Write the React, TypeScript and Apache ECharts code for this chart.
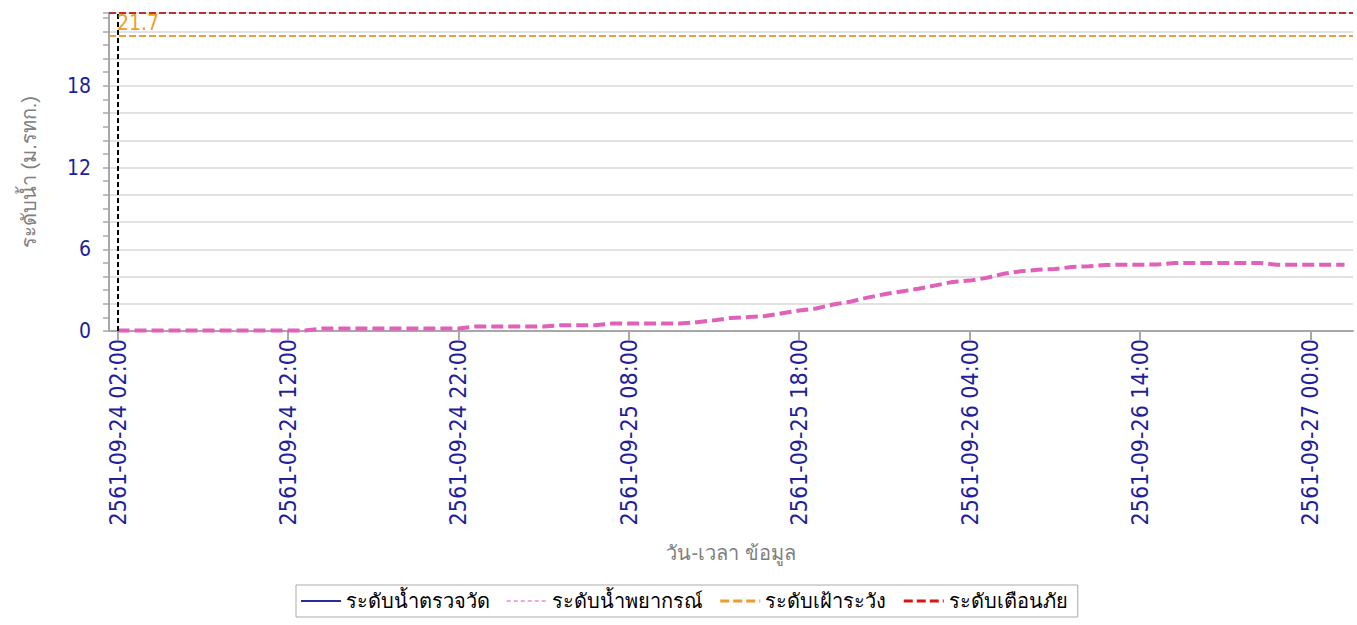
import React, { useEffect, useRef } from "react";
import * as echarts from "echarts";

// ---- data ----
const days = ["2561-09-24", "2561-09-25", "2561-09-26", "2561-09-27"];
const hours = [
  "00:00", "01:00", "02:00", "03:00", "04:00", "05:00", "06:00", "07:00",
  "08:00", "09:00", "10:00", "11:00", "12:00", "13:00", "14:00", "15:00",
  "16:00", "17:00", "18:00", "19:00", "20:00", "21:00", "22:00", "23:00",
];
// hourly categories from 2561-09-24 02:00 to 2561-09-27 02:00
const categories: string[] = [];
days.forEach((d, di) => {
  hours.forEach((h, hi) => {
    if (di === 0 && hi < 2) return;
    if (di === days.length - 1 && hi > 2) return;
    categories.push(d + " " + h);
  });
});

const observedLevel: (number | null)[] = [];

const forecastLevel = [
  0.03, 0.03, 0.03, 0.03, 0.03, 0.03, 0.03, 0.03, 0.03, 0.03, 0.03, 0.03,
  0.18, 0.18, 0.18, 0.18, 0.18, 0.18, 0.18, 0.18, 0.18,
  0.33, 0.33, 0.33, 0.33, 0.33,
  0.42, 0.42, 0.42,
  0.55, 0.55, 0.55, 0.55, 0.55,
  0.65, 0.78,
  0.95, 1.02, 1.1,
  1.3, 1.5, 1.65,
  1.95, 2.15,
  2.45, 2.7,
  2.9, 3.1,
  3.35, 3.6,
  3.7, 3.9,
  4.2, 4.38,
  4.5, 4.55,
  4.7, 4.75,
  4.85, 4.87, 4.87, 4.88,
  5.0, 5.0, 5.0, 5.0, 5.0, 5.0,
  4.87, 4.87, 4.87, 4.87, 4.87,
];

const watchLevel = 21.7;
const warningLevel = 23.35;
const nowIndex = 0;

const seriesNames = [
  "ระดับน้ำตรวจวัด",
  "ระดับน้ำพยากรณ์",
  "ระดับเฝ้าระวัง",
  "ระดับเตือนภัย",
];
const yLabelValues = [0, 6, 12, 18];

const FONT = "Tahoma, 'Liberation Sans', 'Noto Sans', sans-serif";
const NUM_FONT = "'DejaVu Sans Condensed', Tahoma, 'Liberation Sans', sans-serif";

export default function App() {
  const ref = useRef<HTMLDivElement>(null);

  useEffect(() => {
    if (!ref.current) return;
    const chart = echarts.init(ref.current, null, { renderer: "svg" });
    const empty = categories.map(() => null);
    const hidden = { opacity: 0 };

    chart.setOption({
      animation: false,
      backgroundColor: "#ffffff",
      textStyle: { fontFamily: FONT },
      grid: { left: 109, right: 4, top: 13, bottom: 294, containLabel: false },
      legend: {
        left: 296,
        top: 585,
        padding: [6, 10, 6, 4],
        itemGap: 16,
        itemWidth: 40,
        itemHeight: 14,
        borderColor: "#aaaaaa",
        borderWidth: 1,
        textStyle: { fontSize: 20, color: "#000", fontFamily: FONT },
        data: [
          { name: seriesNames[0], itemStyle: hidden, lineStyle: { color: "#2b2b99", width: 2, type: "solid" } },
          { name: seriesNames[1], itemStyle: hidden, lineStyle: { color: "#e88ad4", width: 1.5, type: [4, 3] } },
          { name: seriesNames[2], itemStyle: hidden, lineStyle: { color: "#f09a28", width: 3, type: [9, 4] } },
          { name: seriesNames[3], itemStyle: hidden, lineStyle: { color: "#d81414", width: 3, type: [9, 4] } },
        ],
      },
      xAxis: {
        type: "category",
        data: categories,
        boundaryGap: true,
        name: "วัน-เวลา ข้อมูล",
        nameLocation: "middle",
        nameGap: 212,
        nameTextStyle: { color: "#808080", fontSize: 20, fontFamily: FONT },
        axisLine: { lineStyle: { color: "#a8a8a8", width: 2 } },
        axisTick: { show: true, interval: 9, alignWithLabel: true, length: 9, lineStyle: { color: "#a8a8a8", width: 2 } },
        axisLabel: {
          interval: 9,
          rotate: 90,
          margin: 8,
          color: "#1f1f9c",
          fontSize: 23,
          fontFamily: NUM_FONT,
        },
        splitLine: { show: false },
      },
      yAxis: {
        type: "value",
        min: 0,
        max: warningLevel,
        interval: 2,
        name: "ระดับน้ำ (ม.รทก.)",
        nameLocation: "middle",
        nameGap: 70,
        nameTextStyle: { color: "#808080", fontSize: 20, fontFamily: FONT },
        axisLine: { show: true, lineStyle: { color: "#a8a8a8", width: 2 } },
        axisTick: { show: true, length: 6, lineStyle: { color: "#a8a8a8", width: 1.5 } },
        minorTick: { show: true, splitNumber: 2, length: 6, lineStyle: { color: "#a8a8a8", width: 1.5 } },
        axisLabel: {
          margin: 18,
          color: "#1f1f9c",
          fontSize: 21,
          fontFamily: NUM_FONT,
          formatter: (v: number) => (yLabelValues.indexOf(v) >= 0 ? String(v) : ""),
        },
        splitLine: { show: true, lineStyle: { color: "#d8d8d8", width: 1.5 } },
      },
      series: [
        {
          name: seriesNames[0],
          type: "line",
          data: observedLevel.length ? observedLevel : empty,
          symbol: "none",
          color: "#2b2b99",
          lineStyle: { color: "#2b2b99", width: 2 },
          markLine: {
            silent: true,
            symbol: ["none", "none"],
            label: { show: false },
            lineStyle: { color: "#000", width: 2, type: [5, 3] },
            data: [{ xAxis: nowIndex }],
          },
          z: 5,
        },
        {
          name: seriesNames[1],
          type: "line",
          data: forecastLevel,
          symbol: "none",
          color: "#e060bb",
          lineStyle: { color: "#e060bb", width: 4, type: [12, 5] },
          z: 4,
        },
        {
          name: seriesNames[2],
          type: "line",
          data: empty,
          symbol: "none",
          color: "#f09a28",
          lineStyle: { color: "#f09a28", width: 2 },
          markLine: {
            silent: true,
            symbol: ["none", "none"],
            label: {
              show: true,
              position: "insideStartTop",
              formatter: String(watchLevel),
              color: "#f0a020",
              fontSize: 21,
              fontFamily: NUM_FONT,
              distance: [8, 2],
            },
            lineStyle: { color: "#e8a33a", width: 2, type: [7, 3] },
            data: [{ yAxis: watchLevel }],
          },
        },
        {
          name: seriesNames[3],
          type: "line",
          data: empty,
          symbol: "none",
          color: "#d81414",
          lineStyle: { color: "#d81414", width: 2 },
          markLine: {
            silent: true,
            symbol: ["none", "none"],
            label: { show: false },
            lineStyle: { color: "#b83232", width: 2, type: [7, 3] },
            data: [{ yAxis: warningLevel }],
          },
        },
      ],
    });

    return () => chart.dispose();
  }, []);

  return (
    <div
      ref={ref}
      style={{ position: "absolute", left: 0, top: 0, width: 1357, height: 625 }}
    />
  );
}
